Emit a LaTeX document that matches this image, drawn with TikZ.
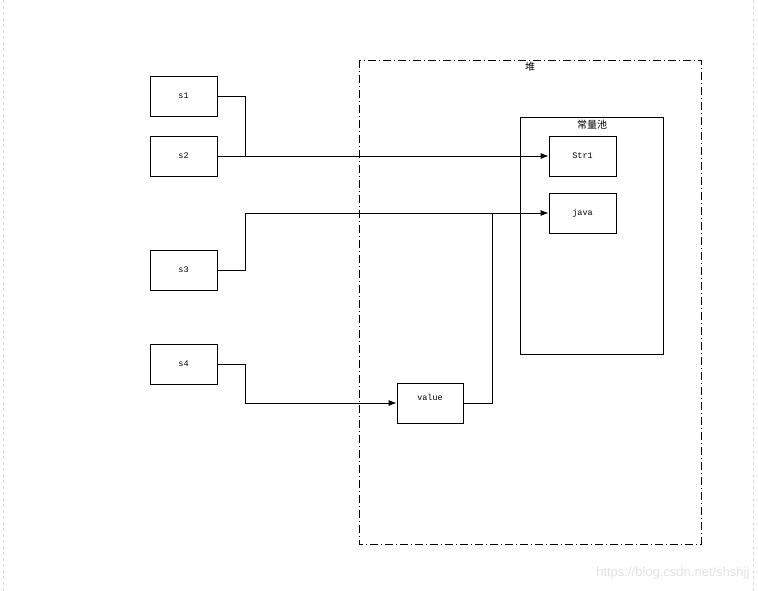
\documentclass[tikz,border=0pt]{standalone}
\usepackage{fontspec}
\setmonofont{Liberation Mono}
\newfontfamily\cjk{Noto Sans CJK SC}
\newfontfamily\wm{Liberation Sans}
\usetikzlibrary{arrows.meta}
\begin{document}
\begin{tikzpicture}[x=1pt,y=-1pt,
  box/.style={draw,line width=0.8pt,minimum width=67pt,minimum height=40pt,inner sep=0pt,font=\ttfamily\fontsize{8.5}{9}\selectfont},
  conn/.style={line width=0.8pt},
  arr/.style={line width=0.8pt,-{Latex[length=8pt,width=6pt]}}]
\useasboundingbox (0,0) rectangle (758,591);
\fill[white] (0,0) rectangle (758,591);
\draw[gray!30,dashed] (3,0) -- (3,591);
\draw[gray!30,dashed] (753,0) -- (753,591);
% heap
\draw[line width=0.8pt,dash pattern=on 8pt off 3pt on 1pt off 3pt] (359,60) rectangle (701,544);
\node[font=\cjk\fontsize{10}{11}\selectfont] (heaplbl) at (530,67) {堆};
% constant pool
\draw[line width=0.8pt] (520,117) rectangle (663,354);
\node[font=\cjk\fontsize{10}{11}\selectfont] (poollbl) at (592,125) {常量池};
% nodes
\node[box] (s1) at (183.5,96) {s1};
\node[box] (s2) at (183.5,156) {s2};
\node[box] (s3) at (183.5,270) {s3};
\node[box] (s4) at (183.5,364) {s4};
\node[box] (str1) at (582.5,156) {Str1};
\node[box] (java) at (582.5,213) {java};
\node[box,minimum width=66pt,text depth=12pt] (value) at (430,403) {value};
\coordinate (j1) at (245,156);
\coordinate (j2) at (492,213);
% connectors
\draw[conn] (s1.east) -| (j1);
\draw[arr] (s2.east) -- (str1.west);
\draw[arr] (s3.east) -- ++(28,0) |- (java.west);
\draw[arr] (s4.east) -- ++(28,0) |- (value.west);
\draw[conn] (value.east) -- ++(29,0) |- (j2);
% watermark
\node[anchor=east,font=\wm\fontsize{13}{14}\selectfont,text=gray!22] (wmk) at (753,573) {https://blog.csdn.net/shshjj};
\end{tikzpicture}
\end{document}
